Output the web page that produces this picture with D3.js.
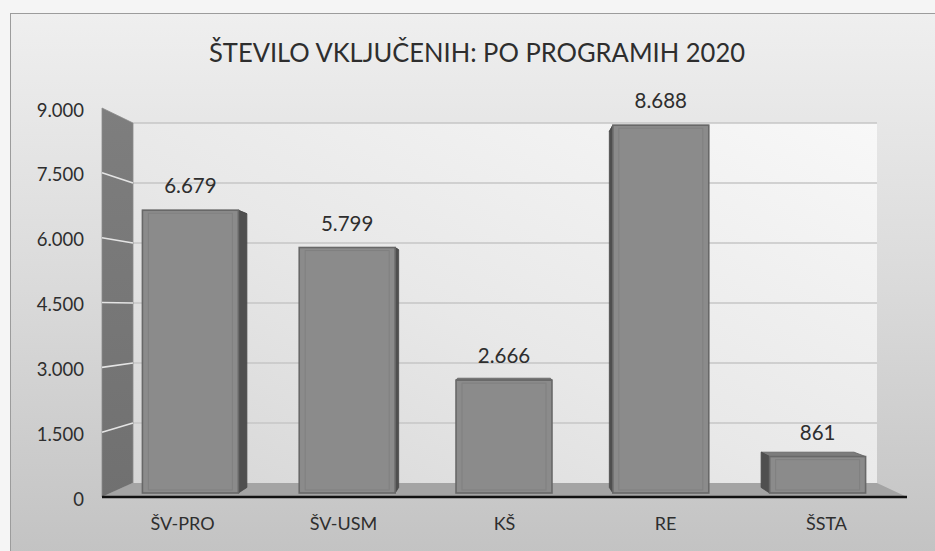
<!DOCTYPE html>
<html>
<head>
<meta charset="utf-8">
<script src="https://cdn.jsdelivr.net/npm/d3@7"></script>
<style>
  html, body { margin: 0; padding: 0; background: #f4f4f4; }
  svg { display: block; }
  text { font-family: Lato, "Open Sans", "DejaVu Sans", sans-serif; fill: #2e2e2e; }
</style>
</head>
<body>
<svg id="chart" width="935" height="551"></svg>
<script>
// ---- data ----
const title = "ŠTEVILO VKLJUČENIH: PO PROGRAMIH 2020";
const categories = ["ŠV-PRO", "ŠV-USM", "KŠ", "RE", "ŠSTA"];
const values = [6679, 5799, 2666, 8688, 861];
const yTicks = [0, 1500, 3000, 4500, 6000, 7500, 9000];

const fmt = v => d3.format(",")(v).replace(/,/g, ".");

const svg = d3.select("#chart");
const W = 935, H = 551;

// ---- scales (three depth planes of the 3D box) ----
const yFront = d3.scaleLinear().domain([0, 9000]).range([497, 108]);
const yBack  = d3.scaleLinear().domain([0, 9000]).range([483, 123]);
const yBar   = d3.scaleLinear().domain([0, 9000]).range([493, 112]);
const xFront = d3.scaleBand().domain(categories).range([102, 907]).padding(0);
const xBar   = d3.scaleBand().domain(categories).range([112, 896]).padding(0);
const backL = 133, backR = 877, frontL = 102, frontR = 907;

// ---- defs ----
const defs = svg.append("defs");
const bg = defs.append("linearGradient").attr("id", "bg").attr("x1", 0).attr("y1", 0).attr("x2", 0).attr("y2", 1);
bg.append("stop").attr("offset", "0%").attr("stop-color", "#efefef");
bg.append("stop").attr("offset", "50%").attr("stop-color", "#dadada");
bg.append("stop").attr("offset", "100%").attr("stop-color", "#c2c2c2");
const wall = defs.append("linearGradient").attr("id", "wall").attr("x1", 0).attr("y1", 1).attr("x2", 1).attr("y2", 0);
wall.append("stop").attr("offset", "0%").attr("stop-color", "#d6d6d6");
wall.append("stop").attr("offset", "45%").attr("stop-color", "#e8e8e8");
wall.append("stop").attr("offset", "100%").attr("stop-color", "#f8f8f8");
const side = defs.append("linearGradient").attr("id", "sidewall").attr("x1", 0).attr("y1", 0).attr("x2", 0).attr("y2", 1);
side.append("stop").attr("offset", "0%").attr("stop-color", "#7e7e7e");
side.append("stop").attr("offset", "100%").attr("stop-color", "#707070");

// ---- background ----
svg.append("rect").attr("x", 0).attr("y", 0).attr("width", W).attr("height", H).attr("fill", "#f5f5f5");
svg.append("rect").attr("x", 10.5).attr("y", 13.5).attr("width", W).attr("height", H)
  .attr("fill", "url(#bg)").attr("stroke", "#9c9c9c").attr("stroke-width", 1);

// ---- back wall ----
svg.append("rect").attr("x", backL).attr("y", yBack(9000))
  .attr("width", backR - backL).attr("height", yBack(0) - yBack(9000))
  .attr("fill", "url(#wall)");
svg.append("g").selectAll("line").data(yTicks.filter(t => t > 0)).join("line")
  .attr("x1", backL).attr("x2", backR)
  .attr("y1", d => yBack(d)).attr("y2", d => yBack(d))
  .attr("stroke", "#c6c6c6").attr("stroke-width", 1.5);

// ---- left side wall ----
const line = d3.line();
svg.append("path")
  .attr("d", line([[frontL, yFront(9000)], [backL, yBack(9000)], [backL, yBack(0)], [frontL, yFront(0)]]) + "Z")
  .attr("fill", "url(#sidewall)").attr("stroke", "#8a8a8a").attr("stroke-width", 0.8);
svg.append("g").selectAll("line").data(yTicks.filter(t => t > 0 && t < 9000)).join("line")
  .attr("x1", frontL).attr("x2", backL)
  .attr("y1", d => yFront(d)).attr("y2", d => yBack(d))
  .attr("stroke", "#e4e4e4").attr("stroke-width", 1.6);

// ---- floor ----
svg.append("path")
  .attr("d", line([[frontL, yFront(0)], [backL, yBack(0)], [backR, yBack(0)], [frontR, yFront(0)]]) + "Z")
  .attr("fill", "#a4a4a4");

// ---- bars (3D prisms, projected toward a vanishing point) ----
const vp = [504, 320], depth = 0.032;
const back = p => [p[0] + depth * (vp[0] - p[0]), p[1] + depth * (vp[1] - p[1])];

const gBars = svg.append("g");
categories.forEach((c, i) => {
  const v = values[i];
  const cx = xBar(c) + xBar.bandwidth() / 2;
  const w = xBar.bandwidth() * 0.612;
  const x0 = cx - w / 2, x1 = cx + w / 2;
  const y0 = yBar(0), y1 = yBar(v);
  const fTL = [x0, y1], fTR = [x1, y1], fBL = [x0, y0], fBR = [x1, y0];
  const bTL = back(fTL), bTR = back(fTR), bBL = back(fBL), bBR = back(fBR);
  const g = gBars.append("g");
  g.append("path").attr("d", line([fTL, fTR, bTR, bTL]) + "Z")
    .attr("fill", "#7c7c7c").attr("stroke", "#5e5e5e").attr("stroke-width", 0.8);
  if (cx < vp[0] - 1) {
    g.append("path").attr("d", line([fTR, bTR, bBR, fBR]) + "Z")
      .attr("fill", "#4f4f4f").attr("stroke", "#474747").attr("stroke-width", 0.8);
  } else if (cx > vp[0] + 1) {
    g.append("path").attr("d", line([fTL, bTL, bBL, fBL]) + "Z")
      .attr("fill", "#4f4f4f").attr("stroke", "#474747").attr("stroke-width", 0.8);
  }
  g.append("rect").attr("x", x0).attr("y", y1).attr("width", w).attr("height", y0 - y1)
    .attr("fill", "#8b8b8b").attr("stroke", "#686868").attr("stroke-width", 1.6);
  const inset = 6;
  if (y0 - y1 > 2 * inset)
    g.append("rect").attr("x", x0 + inset).attr("y", y1 + 3).attr("width", w - 2 * inset).attr("height", y0 - y1 - 3 - inset / 2)
      .attr("fill", "none").attr("stroke", "#7a7a7a").attr("stroke-width", 1).attr("opacity", 0.6);
  svg.append("text").attr("x", cx).attr("y", y1 - 17)
    .attr("text-anchor", "middle").attr("font-size", 20.5).text(fmt(v));
});

// ---- front edge of floor ----
svg.append("line").attr("x1", frontL).attr("x2", frontR)
  .attr("y1", yFront(0)).attr("y2", yFront(0))
  .attr("stroke", "#111").attr("stroke-width", 2.6);

// ---- y axis labels ----
svg.append("g").selectAll("text").data(yTicks).join("text")
  .attr("x", 84).attr("y", d => yFront(d) + 8.5)
  .attr("text-anchor", "end").attr("font-size", 18.5)
  .text(d => fmt(d));

// ---- category labels ----
svg.append("g").selectAll("text").data(categories).join("text")
  .attr("x", d => xFront(d) + xFront.bandwidth() / 2).attr("y", 530)
  .attr("text-anchor", "middle").attr("font-size", 18)
  .text(d => d);

// ---- title ----
svg.append("text").attr("x", 477).attr("y", 62)
  .attr("text-anchor", "middle").attr("font-size", 26.5).attr("fill", "#222")
  .attr("textLength", 536).attr("lengthAdjust", "spacingAndGlyphs")
  .text(title);
</script>
</body>
</html>
